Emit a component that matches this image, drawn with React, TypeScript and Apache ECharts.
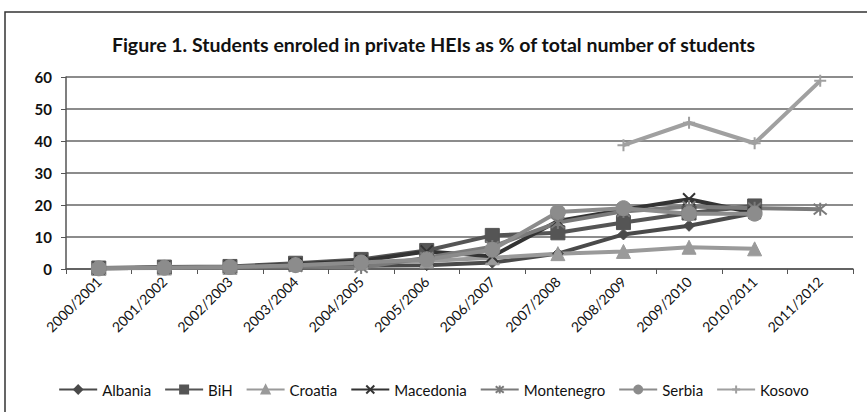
import React, { useEffect, useRef } from "react";
import * as echarts from "echarts";

const categories = ["2000/2001", "2001/2002", "2002/2003", "2003/2004", "2004/2005", "2005/2006", "2006/2007", "2007/2008", "2008/2009", "2009/2010", "2010/2011", "2011/2012"];
const albania = [0.3, 0.4, 0.6, 0.8, 1.0, 1.2, 2.0, 4.8, 10.8, 13.5, 17.5, null];
const bih = [0.3, 0.6, 0.8, 1.8, 3.0, 5.8, 10.5, 11.3, 14.5, 17.5, 19.7, null];
const croatia = [0.2, 0.3, 0.5, 1.5, 2.0, 2.5, 3.5, 4.8, 5.5, 6.8, 6.3, null];
const macedonia = [0.2, 0.4, 0.6, 1.5, 2.5, 5.5, 4.0, 15.0, 18.5, 21.8, 17.5, null];
const montenegro = [0.2, 0.4, 0.6, 0.8, 0.5, 3.5, 7.0, 14.5, 18.0, 19.5, 19.0, 18.7];
const serbia = [0.2, 0.4, 0.6, 1.2, 2.0, 3.0, 6.0, 17.8, 19.0, 17.3, 17.3, null];
const kosovo = [null, null, null, null, null, null, null, null, 38.7, 45.7, 39.3, 58.8];
const yTicks = [0, 10, 20, 30, 40, 50, 60];

const X_SYMBOL = "path://M0,0L10,10M10,0L0,10";
const STAR_SYMBOL = "path://M0,0L10,10M10,0L0,10M5,-1L5,11";
const PLUS_SYMBOL = "path://M5,0L5,10M0,5L10,5";

export default function App() {
  const ref = useRef<HTMLDivElement>(null);
  useEffect(() => {
    if (!ref.current) return;
    const chart = echarts.init(ref.current, null, { renderer: "svg" });
    const mk = (name: string, data: (number | null)[], color: string, symbol: string, size: number, open = false) => ({
      name,
      type: "line",
      data,
      symbol,
      symbolSize: size,
      showSymbol: true,
      connectNulls: false,
      lineStyle: { color, width: 4 },
      itemStyle: open ? { color, borderColor: color, borderWidth: 2 } : { color, borderColor: color, borderWidth: 1 },
    });
    chart.setOption({
      animation: false,
      textStyle: { fontFamily: "Lato" },
      title: {
        text: "Figure 1. Students enroled in private HEIs as % of total number of students",
        left: "center",
        top: 29,
        textStyle: { fontSize: 19.5, fontWeight: "bold", color: "#111", fontFamily: "Lato" },
      },
      graphic: [
        { type: "rect", shape: { x: 5, y: 12, width: 870, height: 410 }, style: { fill: "none", stroke: "#333", lineWidth: 1.5 } },
      ],
      legend: {
        bottom: 10,
        left: "center",
        itemWidth: 38,
        itemHeight: 10,
        itemGap: 13,
        textStyle: { fontSize: 15, color: "#111", fontFamily: "Lato" },
        data: ["Albania", "BiH", "Croatia", "Macedonia", "Montenegro", "Serbia", "Kosovo"],
      },
      grid: { left: 66, right: 14, top: 77, bottom: 143, containLabel: false },
      xAxis: {
        type: "category",
        data: categories,
        boundaryGap: true,
        axisLine: { lineStyle: { color: "#555", width: 1.5 } },
        axisTick: { show: true, alignWithLabel: false, length: 5, lineStyle: { color: "#555" } },
        axisLabel: { rotate: 45, fontSize: 14, color: "#111", margin: 10, interval: 0 },
      },
      yAxis: {
        type: "value",
        min: 0,
        max: 60,
        interval: 10,
        axisLine: { show: true, lineStyle: { color: "#555", width: 1.5 } },
        axisTick: { show: true, inside: false, length: 5, lineStyle: { color: "#555" } },
        axisLabel: { fontSize: 15, color: "#111", margin: 14, fontWeight: "bold", formatter: (v: number) => (yTicks.includes(v) ? String(v) : "") },
        splitLine: { lineStyle: { color: "#666", width: 1.5 } },
      },
      series: [
        mk("Albania", albania, "#4a4a4a", "diamond", 11),
        mk("BiH", bih, "#555555", "rect", 14),
        mk("Croatia", croatia, "#9a9a9a", "triangle", 14),
        mk("Macedonia", macedonia, "#333333", X_SYMBOL, 12, true),
        mk("Montenegro", montenegro, "#7a7a7a", STAR_SYMBOL, 13, true),
        mk("Serbia", serbia, "#8c8c8c", "circle", 15),
        mk("Kosovo", kosovo, "#a0a0a0", PLUS_SYMBOL, 12, true),
      ],
    });
    return () => chart.dispose();
  }, []);
  return <div ref={ref} style={{ width: 867, height: 412, position: "absolute", left: 0, top: 0 }} />;
}
